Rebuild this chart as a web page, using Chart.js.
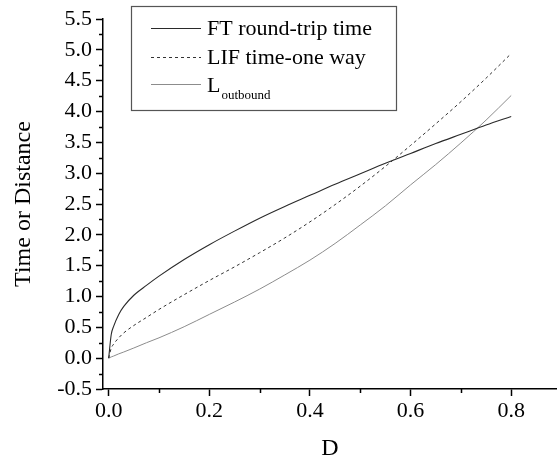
<!DOCTYPE html>
<html>
<head>
<meta charset="utf-8">
<script src="https://cdn.jsdelivr.net/npm/chart.js@4/dist/chart.umd.min.js"></script>
<style>
  html, body { margin: 0; padding: 0; background: #fff; }
  #wrap { width: 557px; height: 461px; }
</style>
</head>
<body>
<div id="wrap"><canvas id="c" width="557" height="461"></canvas></div>
<script>
// ---- data ----
const dValues = [0, 0.005, 0.01, 0.02, 0.03, 0.05, 0.075, 0.1, 0.15, 0.2, 0.25, 0.3, 0.35, 0.4, 0.45, 0.5, 0.55, 0.6, 0.65, 0.7, 0.75, 0.8];
const ftRoundTrip = [0, 0.38, 0.52, 0.71, 0.84, 1.02, 1.18, 1.33, 1.60, 1.84, 2.06, 2.27, 2.46, 2.64, 2.82, 2.99, 3.16, 3.32, 3.48, 3.63, 3.78, 3.92];
const lifOneWay = [0, 0.16, 0.23, 0.33, 0.41, 0.53, 0.66, 0.79, 1.03, 1.26, 1.48, 1.71, 1.95, 2.21, 2.49, 2.79, 3.11, 3.45, 3.80, 4.16, 4.54, 4.94];
const lOutbound = [0, 0.02, 0.035, 0.07, 0.10, 0.165, 0.25, 0.33, 0.51, 0.71, 0.91, 1.12, 1.35, 1.59, 1.86, 2.16, 2.47, 2.81, 3.14, 3.49, 3.86, 4.26];

const seriesLabels = ['FT round-trip time', 'LIF time-one way', 'L'];
const seriesSubscripts = ['', '', 'outbound'];

const xTickValues = [0, 0.2, 0.4, 0.6, 0.8];
const xMinorTickValues = [0.1, 0.3, 0.5, 0.7];
const yTickValues = [-0.5, 0, 0.5, 1, 1.5, 2, 2.5, 3, 3.5, 4, 4.5, 5, 5.5];
const yMinorTickValues = [-0.25, 0.25, 0.75, 1.25, 1.75, 2.25, 2.75, 3.25, 3.75, 4.25, 4.75, 5.25];

const xTitle = 'D';
const yTitle = 'Time or Distance';

const FONT = "'Liberation Serif', 'Times New Roman', serif";

function toPoints(ys) { return dValues.map((d, i) => ({ x: d, y: ys[i] })); }

const minorTicks = {
  id: 'minorTicks',
  afterDraw(chart) {
    const ctx = chart.ctx;
    const xs = chart.scales.x, ys = chart.scales.y;
    ctx.save();
    ctx.strokeStyle = '#000';
    ctx.lineWidth = 1.5;
    ctx.beginPath();
    xMinorTickValues.forEach(v => {
      const px = Math.round(xs.getPixelForValue(v)) + 0.5;
      ctx.moveTo(px, xs.top);
      ctx.lineTo(px, xs.top + 4);
    });
    yMinorTickValues.forEach(v => {
      const py = Math.round(ys.getPixelForValue(v)) + 0.5;
      ctx.moveTo(ys.right, py);
      ctx.lineTo(ys.right - 4, py);
    });
    ctx.stroke();
    ctx.restore();
  }
};

const boxLegend = {
  id: 'boxLegend',
  afterDraw(chart) {
    const ctx = chart.ctx;
    const a = chart.chartArea;
    const bx = a.left + 28, by = a.top - 13, bw = 265, bh = 104;
    ctx.save();
    ctx.fillStyle = '#fff';
    ctx.fillRect(bx, by, bw, bh);
    ctx.strokeStyle = '#555';
    ctx.lineWidth = 1.2;
    ctx.strokeRect(bx + 0.5, by + 0.5, bw, bh);
    const rowY = [by + 22, by + 51, by + 78];
    const textBase = [by + 29, by + 58, by + 86];
    chart.data.datasets.forEach((ds, i) => {
      ctx.strokeStyle = ds.borderColor;
      ctx.lineWidth = ds.borderWidth;
      ctx.setLineDash(ds.borderDash || []);
      ctx.beginPath();
      ctx.moveTo(bx + 20, rowY[i] + 0.5);
      ctx.lineTo(bx + 70, rowY[i] + 0.5);
      ctx.stroke();
      ctx.setLineDash([]);
      ctx.fillStyle = '#000';
      ctx.textBaseline = 'alphabetic';
      ctx.font = '22px ' + FONT;
      ctx.fillText(seriesLabels[i], bx + 76, textBase[i]);
      if (seriesSubscripts[i]) {
        const w = ctx.measureText(seriesLabels[i]).width;
        ctx.font = '13px ' + FONT;
        ctx.fillText(seriesSubscripts[i], bx + 76 + w + 1, textBase[i] + 7);
      }
    });
    ctx.restore();
  }
};

new Chart(document.getElementById('c'), {
  type: 'line',
  data: {
    datasets: [
      { label: 'FT round-trip time', data: toPoints(ftRoundTrip), borderColor: '#2a2a2a', borderWidth: 1.1, pointRadius: 0, fill: false, cubicInterpolationMode: 'monotone' },
      { label: 'LIF time-one way', data: toPoints(lifOneWay), borderColor: '#333', borderWidth: 1, borderDash: [3, 3], pointRadius: 0, fill: false, cubicInterpolationMode: 'monotone' },
      { label: 'L outbound', data: toPoints(lOutbound), borderColor: '#8c8c8c', borderWidth: 1, pointRadius: 0, fill: false, cubicInterpolationMode: 'monotone' }
    ]
  },
  options: {
    responsive: false,
    animation: false,
    layout: { padding: { top: 19, right: 0, left: 0, bottom: 0 } },
    plugins: { legend: { display: false }, tooltip: { enabled: false } },
    scales: {
      x: {
        type: 'linear',
        min: -0.0113,
        max: 0.891,
        afterBuildTicks(scale) { scale.ticks = xTickValues.map(v => ({ value: v })); },
        afterFit(scale) { scale.height = 72; },
        grid: { drawOnChartArea: false, drawTicks: true, tickLength: 7, tickColor: '#000', tickWidth: 1.5 },
        border: { display: true, color: '#000', width: 1.5 },
        ticks: { color: '#000', font: { family: FONT, size: 22 }, padding: 2, maxRotation: 0, callback: v => v.toFixed(1) },
        title: { display: true, text: xTitle, color: '#000', font: { family: FONT, size: 24, lineHeight: 1 }, padding: { top: 0, bottom: 0 } }
      },
      y: {
        type: 'linear',
        min: -0.5,
        max: 5.5,
        afterBuildTicks(scale) { scale.ticks = yTickValues.map(v => ({ value: v })); },
        afterFit(scale) { scale.width = 103; },
        grid: { drawOnChartArea: false, drawTicks: true, tickLength: 7, tickColor: '#000', tickWidth: 1.5 },
        border: { display: true, color: '#000', width: 1.5 },
        ticks: { color: '#000', font: { family: FONT, size: 22 }, padding: 4, callback: v => v.toFixed(1) },
        title: { display: true, text: yTitle, color: '#000', font: { family: FONT, size: 24, lineHeight: 1 }, padding: { top: 12, bottom: 0 } }
      }
    }
  },
  plugins: [minorTicks, boxLegend]
});
</script>
</body>
</html>
